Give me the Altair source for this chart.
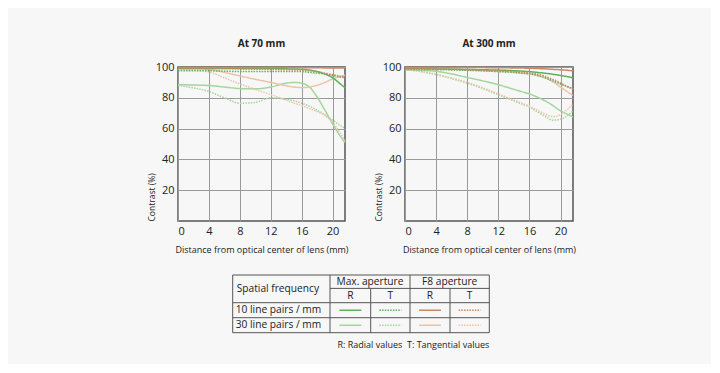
import altair as alt
import pandas as pd

# ---------------- data ----------------
distance = [0, 2, 4, 6, 8, 10, 12, 14, 15, 16, 17, 18, 19, 20, 21, 21.6]

# At 70 mm
w_max_r10 = [99, 99, 99, 99, 99, 99, 99, 98.8, 98.7, 98.5, 98, 97, 95.5, 93, 89, 86.5]
w_max_t10 = [97.5, 97.5, 97.5, 97.3, 97, 97, 97, 97, 97, 97, 96.5, 96, 95.5, 94.5, 93.5, 93]
w_f8_r10 = [99.7, 99.7, 99.7, 99.7, 99.7, 99.7, 99.7, 99.6, 99.6, 99.6, 99.5, 99.5, 99.4, 99.4, 99.3, 99.3]
w_f8_t10 = [99, 99, 99, 99, 98.8, 98.6, 98.4, 98.2, 98.1, 98, 97.5, 97, 96, 95, 94, 93.5]
w_max_r30 = [88.5, 88.3, 88, 87, 86, 85.8, 87, 89.5, 90, 89.5, 87, 80.5, 72, 63, 55, 51]
w_max_t30 = [88, 86.5, 84, 80, 76.5, 77, 80, 79, 78, 76.5, 74.5, 72, 69, 65.5, 62, 60]
w_f8_r30 = [99, 99, 98.5, 96.5, 94.2, 92, 90, 87.8, 87, 86.6, 87, 88.2, 90, 92.3, 93.8, 94.6]
w_f8_t30 = [98.5, 98, 96.8, 93, 89, 85.5, 82, 78.5, 76.5, 75, 73, 71, 68.5, 64, 57, 52]

# At 300 mm
t_max_r10 = [99, 99, 98.8, 98.6, 98.4, 98.2, 98, 97.6, 97.3, 97, 96.5, 96, 95.3, 94.5, 93.6, 93]
t_max_t10 = [98.5, 98.4, 98.3, 98.1, 97.8, 97.5, 97, 96.5, 96, 95.5, 94.5, 93, 91, 89, 87, 86]
t_f8_r10 = [99.7, 99.7, 99.7, 99.7, 99.6, 99.6, 99.5, 99.4, 99.3, 99.2, 99.0, 98.8, 98.5, 98.2, 97.8, 97.5]
t_f8_t10 = [99, 98.9, 98.8, 98.6, 98.3, 98, 97.6, 97.2, 96.8, 96.3, 95.5, 94, 92, 89.5, 87, 85.5]
t_max_r30 = [98, 97.8, 97.2, 95.5, 93.2, 91, 88.5, 85.5, 84, 82.5, 80.5, 78, 75, 71.5, 69, 67.5]
t_max_t30 = [98.5, 97, 95, 92.5, 89.5, 86, 82, 78, 76, 74, 71, 68, 65.5, 66, 69, 71.5]
t_f8_r30 = [99, 98.8, 98.6, 98.4, 98.1, 97.7, 97.2, 96.6, 96.1, 95.5, 94.6, 93, 90.5, 87, 83.5, 81.5]
t_f8_t30 = [98.5, 97.2, 95.3, 92.8, 90, 86.5, 82.5, 78.5, 76.5, 74.5, 72, 69.5, 67.8, 69, 73, 76]

series_keys = ["max_r30", "max_t30", "f8_r30", "f8_t30", "max_t10", "max_r10", "f8_t10", "f8_r10"]
series_colors = ["#a3d69c", "#a3d69c", "#ebc3a5", "#ebc3a5", "#5fb05a", "#5fb05a", "#c98a63", "#c98a63"]
series_dash = ["solid", "dot", "solid", "dot", "dot", "solid", "dot", "solid"]

wide = {"max_r10": w_max_r10, "max_t10": w_max_t10, "f8_r10": w_f8_r10, "f8_t10": w_f8_t10,
        "max_r30": w_max_r30, "max_t30": w_max_t30, "f8_r30": w_f8_r30, "f8_t30": w_f8_t30}
tele = {"max_r10": t_max_r10, "max_t10": t_max_t10, "f8_r10": t_f8_r10, "f8_t10": t_f8_t10,
        "max_r30": t_max_r30, "max_t30": t_max_t30, "f8_r30": t_f8_r30, "f8_t30": t_f8_t30}

x_ticks = [0, 4, 8, 12, 16, 20]
y_ticks = [20, 40, 60, 80, 100]

FONT = "Open Sans"
BG = "#f7f7f7"


def to_frame(d):
    rows = []
    for order, key in enumerate(series_keys):
        for x, v in zip(distance, d[key]):
            rows.append({"series": key, "order": order, "dash": series_dash[order],
                         "distance": x, "contrast": v})
    return pd.DataFrame(rows)


color_scale = alt.Scale(domain=series_keys, range=series_colors)
dash_scale = alt.Scale(domain=["solid", "dot"], range=[[1, 0], [1.5, 1.2]])


def panel(d, title, w):
    df = to_frame(d)
    return alt.Chart(df).mark_line(strokeWidth=1.5, interpolate="monotone").encode(
        x=alt.X("distance:Q", scale=alt.Scale(domain=[0, 21.6], nice=False, zero=False),
                axis=alt.Axis(values=x_ticks, title="Distance from optical center of lens (mm)",
                              titleFontSize=9, titleFontWeight="normal", titlePadding=9,
                              labelFontSize=11, labelPadding=4)),
        y=alt.Y("contrast:Q", scale=alt.Scale(domain=[0, 100], nice=False),
                axis=alt.Axis(values=y_ticks, title="Contrast (%)", titleFontSize=8.5,
                              titleFontWeight="normal", titleAnchor="start", titlePadding=-1,
                              labelFontSize=11, labelPadding=4)),
        color=alt.Color("series:N", scale=color_scale, legend=None),
        strokeDash=alt.StrokeDash("dash:N", scale=dash_scale, legend=None),
        detail="series:N",
        order=alt.Order("order:Q"),
    ).properties(width=w, height=154,
                 title=alt.TitleParams(title, fontSize=10, fontWeight="bold", font=FONT,
                                       color="#222", offset=12))


left = panel(wide, "At 70 mm", 167)
right = panel(tele, "At 300 mm", 168)

# ---------------- legend table ----------------
TW = 395
TH = 76
col_edges = [54.7, 152, 192.7, 232, 272, 311.3]
row_edges = [0, 13.4, 27.7, 42.7, 57.7]

rules = []
rules.append({"x": col_edges[0], "x2": col_edges[-1], "y": row_edges[0], "y2": row_edges[0]})
rules.append({"x": col_edges[0], "x2": col_edges[-1], "y": row_edges[-1], "y2": row_edges[-1]})
rules.append({"x": col_edges[0], "x2": col_edges[0], "y": row_edges[0], "y2": row_edges[-1]})
rules.append({"x": col_edges[-1], "x2": col_edges[-1], "y": row_edges[0], "y2": row_edges[-1]})
rules.append({"x": col_edges[1], "x2": col_edges[-1], "y": row_edges[1], "y2": row_edges[1]})
rules.append({"x": col_edges[0], "x2": col_edges[-1], "y": row_edges[2], "y2": row_edges[2]})
rules.append({"x": col_edges[0], "x2": col_edges[-1], "y": row_edges[3], "y2": row_edges[3]})
rules.append({"x": col_edges[1], "x2": col_edges[1], "y": row_edges[0], "y2": row_edges[-1]})
rules.append({"x": col_edges[3], "x2": col_edges[3], "y": row_edges[0], "y2": row_edges[-1]})
rules.append({"x": col_edges[2], "x2": col_edges[2], "y": row_edges[1], "y2": row_edges[-1]})
rules.append({"x": col_edges[4], "x2": col_edges[4], "y": row_edges[1], "y2": row_edges[-1]})
rules_df = pd.DataFrame(rules)

header_top = ["Max. aperture", "F8 aperture"]
header_sub = ["R", "T", "R", "T"]
row_labels = ["10 line pairs / mm", "30 line pairs / mm"]
note_text = "R: Radial values\u00a0\u00a0T: Tangential values"

texts = []
texts.append({"x": col_edges[0] + 4, "y": (row_edges[0] + row_edges[2]) / 2, "t": "Spatial frequency", "a": "left"})
texts.append({"x": (col_edges[1] + col_edges[3]) / 2, "y": (row_edges[0] + row_edges[1]) / 2, "t": header_top[0], "a": "center"})
texts.append({"x": (col_edges[3] + col_edges[5]) / 2, "y": (row_edges[0] + row_edges[1]) / 2, "t": header_top[1], "a": "center"})
for i, s in enumerate(header_sub):
    texts.append({"x": (col_edges[1 + i] + col_edges[2 + i]) / 2, "y": (row_edges[1] + row_edges[2]) / 2, "t": s, "a": "center"})
for i, s in enumerate(row_labels):
    texts.append({"x": col_edges[0] + 3, "y": (row_edges[2 + i] + row_edges[3 + i]) / 2, "t": s, "a": "left"})
texts_df = pd.DataFrame(texts)

legend_keys = [["max_r10", "max_t10", "f8_r10", "f8_t10"], ["max_r30", "max_t30", "f8_r30", "f8_t30"]]
samples = []
for r, keys in enumerate(legend_keys):
    for c, k in enumerate(keys):
        cx = (col_edges[1 + c] + col_edges[2 + c]) / 2
        cy = (row_edges[2 + r] + row_edges[3 + r]) / 2
        samples.append({"series": k, "dash": series_dash[series_keys.index(k)],
                        "x": cx - 11, "x2": cx + 11, "y": cy, "y2": cy})
samples_df = pd.DataFrame(samples)

xs = alt.Scale(domain=[0, TW], nice=False, zero=False)
ys = alt.Scale(domain=[0, TH], nice=False, zero=False, reverse=True)

t_rules = alt.Chart(rules_df).mark_rule(color="#555", strokeWidth=1).encode(
    x=alt.X("x:Q", scale=xs, axis=None), x2="x2:Q",
    y=alt.Y("y:Q", scale=ys, axis=None), y2="y2:Q")
t_text_left = alt.Chart(texts_df[texts_df["a"] == "left"]).mark_text(
    fontSize=10.2, font=FONT, color="#222", baseline="middle", align="left").encode(
    x=alt.X("x:Q", scale=xs, axis=None), y=alt.Y("y:Q", scale=ys, axis=None), text="t:N")
t_text_center = alt.Chart(texts_df[texts_df["a"] == "center"]).mark_text(
    fontSize=10.2, font=FONT, color="#222", baseline="middle", align="center").encode(
    x=alt.X("x:Q", scale=xs, axis=None), y=alt.Y("y:Q", scale=ys, axis=None), text="t:N")
t_samples = alt.Chart(samples_df).mark_rule(strokeWidth=1.6).encode(
    x=alt.X("x:Q", scale=xs, axis=None), x2="x2:Q",
    y=alt.Y("y:Q", scale=ys, axis=None), y2="y2:Q",
    color=alt.Color("series:N", scale=color_scale, legend=None),
    strokeDash=alt.StrokeDash("dash:N", scale=dash_scale, legend=None))
note_df = pd.DataFrame([{"x": col_edges[-1], "y": 70, "t": note_text}])
t_note = alt.Chart(note_df).mark_text(fontSize=9, font=FONT, color="#222", align="right", baseline="middle").encode(
    x=alt.X("x:Q", scale=xs, axis=None), y=alt.Y("y:Q", scale=ys, axis=None), text="t:N")

table = alt.layer(t_rules, t_samples, t_text_left, t_text_center, t_note).properties(
    width=TW, height=TH, view=alt.ViewConfig(stroke=None))

top = alt.hconcat(left, right, spacing=60, bounds="flush")
chart = alt.vconcat(top, table, spacing=19).properties(
    background=BG,
    padding={"left": 138, "top": 30, "right": 134, "bottom": 13},
).configure_view(stroke="#555", strokeWidth=1.5, fill=BG).configure_axis(
    labelFont=FONT, titleFont=FONT, labelColor="#222", titleColor="#222",
    domain=False, ticks=False, gridColor="#9a9a9a", gridWidth=1,
)

chart.save("out.html", embed_options={"renderer": "svg", "actions": False})
